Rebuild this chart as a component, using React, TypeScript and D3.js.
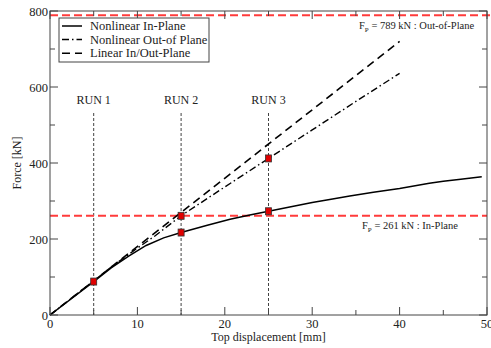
import React from "react";
import * as d3 from "d3";

const inPlane: [number, number][] = [
  [0, 0], [5, 88], [7, 124], [9, 155], [11, 183], [13, 203], [15, 217], [18, 236],
  [20.6, 252], [23, 264], [25, 273], [28, 287], [30, 296], [32, 304], [34.3, 313],
  [37, 323], [40, 333], [43.4, 347], [45, 352], [47, 357], [49.4, 364],
];
const outPlane: [number, number][] = [
  [0, 0], [5, 90], [7, 126], [10, 176], [12, 208], [15, 261], [20, 337], [25, 412],
  [30, 487], [35, 562], [40, 636],
];
const linear: [number, number][] = [[0, 0], [40, 720]];
const markers: [number, number][] = [[5, 88], [15, 217], [15, 261], [25, 273], [25, 412]];
const runs: { x: number; label: string }[] = [
  { x: 5, label: "RUN 1" }, { x: 15, label: "RUN 2" }, { x: 25, label: "RUN 3" },
];
const limits = [789, 261];
const xMajor = [0, 10, 20, 30, 40, 50];
const xMinor = [5, 15, 25, 35, 45];
const yMajor = [0, 200, 400, 600, 800];
const yMinor = [100, 300, 500, 700];
const legendItems = [
  { label: "Nonlinear In-Plane", dash: "none" },
  { label: "Nonlinear Out-of Plane", dash: "7,3,1.5,3" },
  { label: "Linear In/Out-Plane", dash: "8,5" },
];

export default function App() {
  const W = 491, H = 348;
  const L = 50, R = 487, T = 11, B = 315;
  const x = d3.scaleLinear().domain([0, 50]).range([L, R]);
  const y = d3.scaleLinear().domain([0, 800]).range([B, T]);
  const line = d3.line<[number, number]>().x(d => x(d[0])).y(d => y(d[1]));
  const font = "Liberation Serif, Times New Roman, serif";
  const axisCol = "#444";
  const txt = "#222";
  return (
    <svg width={W} height={H} style={{ position: "absolute", left: 0, top: 0, fontFamily: font }}>
      <rect x={0} y={0} width={W} height={H} fill="white" />
      {runs.map(r => (
        <g key={r.label}>
          <line x1={x(r.x)} x2={x(r.x)} y1={113} y2={B} stroke="#111" strokeWidth={0.8} strokeDasharray="3,2" />
          <text x={x(r.x)} y={104} textAnchor="middle" fontSize={12} fill={txt}>{r.label}</text>
        </g>
      ))}
      <line x1={L} x2={W} y1={y(limits[0])} y2={y(limits[0])} stroke="#ff3b3b" strokeWidth={2} strokeDasharray="8,4" />
      <line x1={L} x2={R} y1={y(limits[1])} y2={y(limits[1])} stroke="#ff3b3b" strokeWidth={2} strokeDasharray="8,4" />
      <path d={line(linear) || ""} fill="none" stroke="#000" strokeWidth={1.6} strokeDasharray="8,5" />
      <path d={line(outPlane) || ""} fill="none" stroke="#000" strokeWidth={1.4} strokeDasharray="7,3,1.5,3" />
      <path d={line(inPlane) || ""} fill="none" stroke="#000" strokeWidth={1.5} />
      {markers.map((m, i) => (
        <rect key={i} x={x(m[0]) - 3} y={y(m[1]) - 3.5} width={6} height={7} fill="#e00000" stroke="#333" strokeWidth={0.8} />
      ))}
      <rect x={L} y={T} width={R - L} height={B - T} fill="none" stroke={axisCol} strokeWidth={1} />
      {xMajor.map(v => (
        <g key={"xm" + v}>
          <line x1={x(v)} x2={x(v)} y1={B} y2={B - 8} stroke={axisCol} />
          <line x1={x(v)} x2={x(v)} y1={T} y2={T + 8} stroke={axisCol} />
          <text x={x(v)} y={328} textAnchor="middle" fontSize={12.5} fill={txt}>{v}</text>
        </g>
      ))}
      {xMinor.map(v => (
        <g key={"xn" + v}>
          <line x1={x(v)} x2={x(v)} y1={B} y2={B - 5} stroke={axisCol} />
          <line x1={x(v)} x2={x(v)} y1={T} y2={T + 5} stroke={axisCol} />
        </g>
      ))}
      {yMajor.map(v => (
        <g key={"ym" + v}>
          <line x1={L} x2={L + 8} y1={y(v)} y2={y(v)} stroke={axisCol} />
          <line x1={R} x2={R - 8} y1={y(v)} y2={y(v)} stroke={axisCol} />
          <text x={L - 2} y={y(v) + 4.5} textAnchor="end" fontSize={12.5} fill={txt}>{v}</text>
        </g>
      ))}
      {yMinor.map(v => (
        <g key={"yn" + v}>
          <line x1={L} x2={L + 5} y1={y(v)} y2={y(v)} stroke={axisCol} />
          <line x1={R} x2={R - 5} y1={y(v)} y2={y(v)} stroke={axisCol} />
        </g>
      ))}
      <text x={(L + R) / 2} y={341} textAnchor="middle" fontSize={12} fill={txt}>Top displacement [mm]</text>
      <text transform={`translate(21,${(T + B) / 2}) rotate(-90)`} textAnchor="middle" fontSize={12} fill={txt}>Force [kN]</text>
      <text x={359} y={29} fontSize={10.5} fill={txt}>
        F<tspan fontSize={7} dy={3}>P</tspan><tspan dy={-3}> = 789 kN : Out-of-Plane</tspan>
      </text>
      <text x={362} y={229} fontSize={10.5} fill={txt}>
        F<tspan fontSize={7} dy={3}>P</tspan><tspan dy={-3}> = 261 kN : In-Plane</tspan>
      </text>
      <rect x={59} y={18} width={150} height={44} fill="white" stroke={axisCol} strokeWidth={1} />
      {legendItems.map((it, i) => (
        <g key={it.label}>
          <line x1={62} x2={82} y1={26 + i * 13.6} y2={26 + i * 13.6} stroke="#000" strokeWidth={1.5} strokeDasharray={it.dash} />
          <text x={90} y={30 + i * 13.6} fontSize={12.5} fill={txt}>{it.label}</text>
        </g>
      ))}
    </svg>
  );
}
